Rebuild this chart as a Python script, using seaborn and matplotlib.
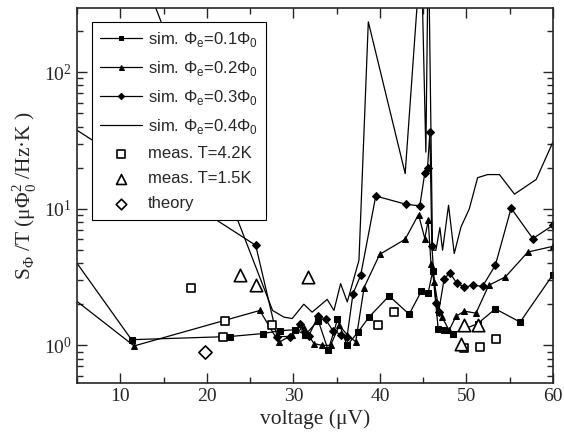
import numpy as np
import seaborn as sns
import matplotlib
matplotlib.use('Agg')
import matplotlib.pyplot as plt
from matplotlib.ticker import MultipleLocator, LogLocator, NullFormatter

# simulacion, Phi_e = 0.1 Phi_0 (cuadrados llenos)
x_01 = [4, 11.3, 22.64, 26.5, 28.4, 30.15, 31.4, 32.87, 34.03, 35.1, 36.2, 37.47, 38.74,
        41.06, 43.38, 44.8, 45.58, 46.1, 46.74, 47.43, 48.4, 51.29, 53.34, 56.2, 60]
y_01 = [4.9, 1.1, 1.16, 1.22, 1.28, 1.3, 1.2, 1.52, 0.92, 1.55, 1.0, 1.25, 1.61,
        2.3, 1.69, 2.5, 2.43, 3.5, 1.31, 1.29, 1.22, 1.44, 1.85, 1.48, 3.3]

# simulacion, Phi_e = 0.2 Phi_0 (triangulos)
x_02 = [4, 11.6, 26.12, 28.33, 29.9, 31.2, 32.37, 33.33, 34.3, 35.3, 36.2, 37.2, 38.17,
        39.98, 42.92, 44.46, 45.19, 45.58, 45.9, 46.28, 46.86, 47.17, 48.0, 48.79, 49.75,
        51.1, 52.57, 54.5, 57.09, 60]
y_02 = [2.35, 0.99, 1.8, 1.05, 1.2, 1.35, 1.03, 1.0, 1.0, 1.4, 1.2, 1.06, 2.65,
        4.64, 5.98, 9.07, 6.05, 8.24, 3.97, 2.91, 1.75, 1.61, 1.29, 1.63, 1.78,
        1.72, 2.75, 3.17, 4.82, 5.31]

# simulacion, Phi_e = 0.3 Phi_0 (rombos)
x_03 = [4, 25.65, 28.12, 29.6, 30.8, 31.8, 32.87, 33.72, 34.6, 35.5, 36.2, 36.89, 37.78,
        39.52, 42.99, 44.61, 45.19, 45.5, 45.78, 46.0, 46.47, 46.78, 47.43, 48.09, 48.86,
        49.75, 50.72, 51.87, 53.34, 55.16, 57.67, 60]
y_03 = [41.3, 5.4, 1.16, 1.16, 1.43, 1.18, 1.65, 1.55, 1.27, 1.2, 1.15, 2.39, 3.26,
        12.4, 10.8, 10.5, 18.3, 19.9, 36.5, 5.35, 2.04, 1.75, 3.08, 3.39, 2.86,
        2.67, 2.75, 2.71, 3.86, 10.1, 6.05, 7.57]

# simulacion, Phi_e = 0.4 Phi_0 (solo linea)
x_04 = [11.5, 27.6, 28.9, 29.86, 31.21, 32.17, 33.91, 34.69, 35.46, 36.23, 37.58, 38.66,
        42.92, 44.77, 45.31, 45.6, 46.08, 46.47, 46.93, 47.24, 47.93, 48.59, 49.37, 50.33,
        51.29, 52.45, 53.81, 55.55, 58.06, 60]
y_04 = [790, 1.8, 1.61, 1.57, 2.0, 1.75, 2.17, 1.8, 2.83, 2.08, 4.2, 234,
        18.1, 820, 26, 1000, 4.97, 4.97, 7.28, 4.97, 10.6, 4.7, 7.36, 10.0,
        16.9, 17.8, 17.8, 12.8, 16.4, 30.9]

# medidas y teoria
x_42K = [18.2, 22.14, 21.83, 27.54, 39.8, 41.64, 49.75, 51.6, 53.42]
y_42K = [2.65, 1.52, 1.16, 1.4, 1.4, 1.75, 0.955, 0.97, 1.12]
x_15K = [23.87, 25.73, 31.71, 49.75, 51.29, 49.37]
y_15K = [3.3, 2.75, 3.17, 1.4, 1.4, 1.03]
x_th = [19.82]
y_th = [0.90]

sns.set_style('ticks')
plt.rcParams['font.family'] = ['Liberation Serif', 'DejaVu Serif']
plt.rcParams['xtick.direction'] = 'in'
plt.rcParams['ytick.direction'] = 'in'

fig = plt.figure(figsize=(5.64, 4.38), dpi=100)
ax = fig.add_axes([0.1365, 0.1256, 0.844, 0.856])

lw = 0.9
sns.lineplot(x=x_01, y=y_01, sort=False, ax=ax, color='black', lw=lw, marker='s', ms=4,
             mec='black', label='sim. Φ$_\\mathregular{e}$=0.1Φ$_\\mathregular{0}$')
sns.lineplot(x=x_02, y=y_02, sort=False, ax=ax, color='black', lw=lw, marker='^', ms=4.5,
             mec='black', label='sim. Φ$_\\mathregular{e}$=0.2Φ$_\\mathregular{0}$')
sns.lineplot(x=x_03, y=y_03, sort=False, ax=ax, color='black', lw=lw, marker='D', ms=4,
             mec='black', label='sim. Φ$_\\mathregular{e}$=0.3Φ$_\\mathregular{0}$')
sns.lineplot(x=x_04, y=y_04, sort=False, ax=ax, color='black', lw=lw,
             label='sim. Φ$_\\mathregular{e}$=0.4Φ$_\\mathregular{0}$')
sns.scatterplot(x=x_42K, y=y_42K, ax=ax, marker='s', s=40, facecolor='white',
                edgecolor='black', linewidth=1.2, label='meas. T=4.2K', zorder=3)
sns.scatterplot(x=x_15K, y=y_15K, ax=ax, marker='^', s=80, facecolor='white',
                edgecolor='black', linewidth=1.2, label='meas. T=1.5K', zorder=3)
sns.scatterplot(x=x_th, y=y_th, ax=ax, marker='D', s=45, facecolor='white',
                edgecolor='black', linewidth=1.2, label='theory', zorder=3)

ax.set_yscale('log')
ax.set_xlim(5, 60)
ax.set_ylim(0.53, 295)
ax.xaxis.set_major_locator(MultipleLocator(10))
ax.xaxis.set_minor_locator(MultipleLocator(5))
ax.yaxis.set_minor_locator(LogLocator(base=10, subs=np.arange(2, 10)))
ax.yaxis.set_minor_formatter(NullFormatter())
ax.tick_params(which='both', top=True, right=True, labelsize=14, width=1)
ax.tick_params(which='major', length=7)
ax.tick_params(which='minor', length=4)
for s in ax.spines.values():
    s.set_linewidth(1.2)

ax.set_xlabel('voltage (μV)', fontsize=15.5, labelpad=3)
ax.set_ylabel('S$_\\mathregular{Φ}$ /T (μΦ$_\\mathregular{0}^\\mathregular{2}$ /Hz·K )', fontsize=15.5, labelpad=4)

leg = ax.legend(loc='upper left', bbox_to_anchor=(0.031, 0.963), borderaxespad=0,
                frameon=True, fancybox=False, edgecolor='black', framealpha=1,
                handlelength=2.5, labelspacing=0.6, borderpad=0.5, handletextpad=0.35,
                markerscale=0.8, prop={'family': 'Liberation Sans', 'size': 12})
leg.get_frame().set_linewidth(0.8)

fig.savefig('out.png', dpi=100)
